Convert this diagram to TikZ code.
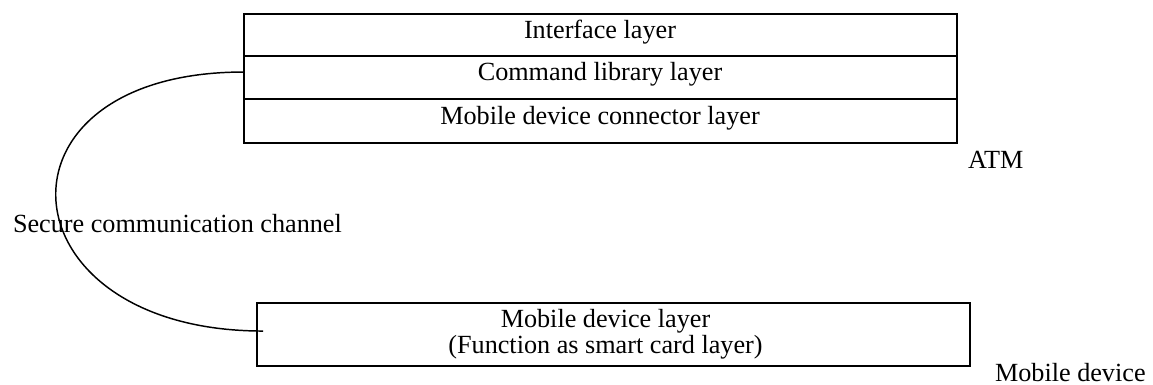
\documentclass[tikz,border=0pt]{standalone}
\usepackage{fontspec}
\setmainfont{Liberation Serif}
\begin{document}
\begin{tikzpicture}[x=0.75pt,y=-0.75pt,
  every node/.style={font=\fontsize{19.65}{19.5}\selectfont, inner sep=0pt, outer sep=0pt},
  layerrow/.style={draw, line width=1.5pt, minimum width=534.75pt, anchor=north,
    text height=12pt, text depth=6.8pt},
  tag/.style={anchor=base west},
  channel/.style={line width=1.1pt}]
\useasboundingbox (0,0) rectangle (1153,385);

% ATM protocol stack
\node[layerrow, minimum height=31.5pt]  (iface) at (600,14) {Interface layer};
\node[layerrow, minimum height=32.25pt] (cmd)   at (iface.south) {Command library layer};
\node[layerrow, minimum height=33pt]    (conn)  at (cmd.south) {Mobile device connector layer};
\node[tag] (atm) at (968,168) {ATM};

% mobile device side (text sits a little left of the box centre)
\node[draw, line width=1.5pt, minimum width=534.75pt, minimum height=47.25pt, align=center]
  (mdl) at (613.5,334.5) {\hspace*{-12pt}Mobile device layer\\\hspace*{-12pt}(Function as smart card layer)};
\node[tag] (mobile) at (995,381) {Mobile device};

% secure channel between the two
\coordinate (chanTop) at ([yshift=4.1pt]cmd.west);
\coordinate (chanBot) at ([xshift=4.5pt,yshift=2.6pt]mdl.west);
\draw[channel] (chanTop) .. controls +(-263,0) and +(-263,0) .. (chanBot);
\node[tag] (chan) at (13,232) {Secure communication channel};
\end{tikzpicture}
\end{document}
